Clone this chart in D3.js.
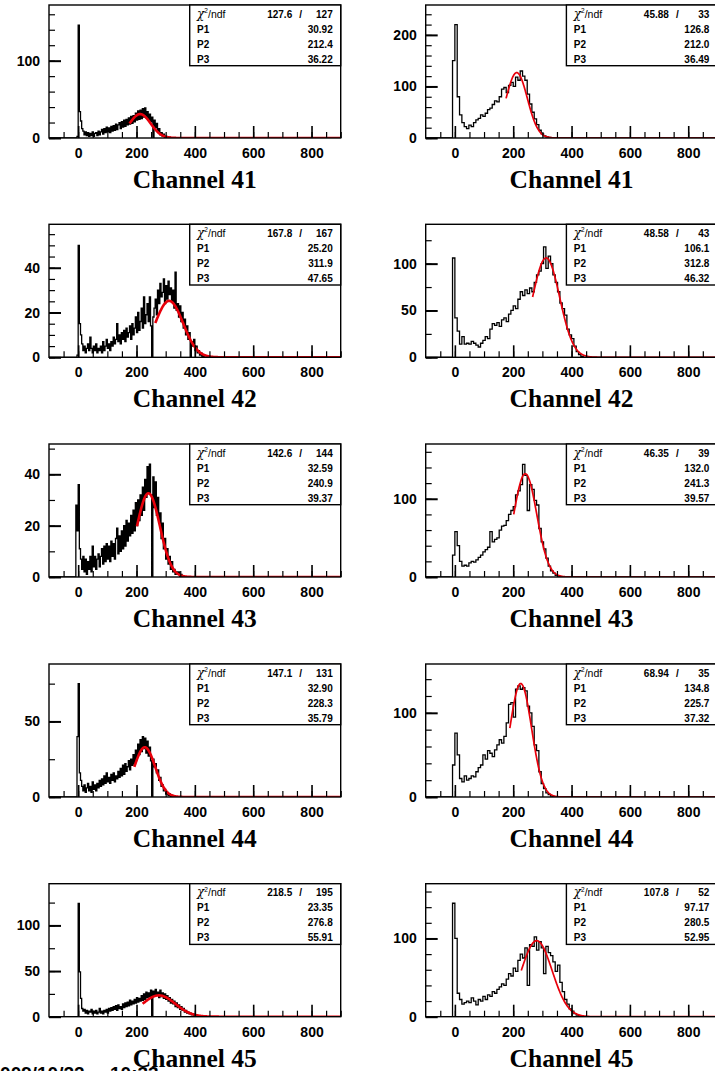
<!DOCTYPE html>
<html>
<head>
<meta charset="utf-8">
<script src="https://cdn.jsdelivr.net/npm/d3@7"></script>
<style>
    body { margin: 0; background: #fff; }
    svg { display: block; }
</style>
</head>
<body>
<svg id="canvas" width="715" height="1071"></svg>
<script>
// ---- data ----------------------------------------------------------------
var channels = [41, 42, 43, 44, 45];

// left column: fine binning (4 ADC units / bin), first bin edge per channel
var leftBinWidth = 4;
var leftStart = [-4, -4, -8, -8, -4];
var leftCounts41 = [2, 146, 34, 22, 12, 9, 4, 8, 3, 7, 2, 6, 3, 8, 2, 6, 7, 3, 9, 4, 8, 11, 5, 12, 7, 14, 8, 13, 7, 15, 9, 16, 10, 18, 11, 17, 20, 12, 21, 14, 23, 15, 24, 17, 26, 18, 28, 19, 29, 21, 32, 23, 35, 24, 36, 25, 38, 27, 39, 26, 34, 23, 31, 21, 27, 0, 23, 13, 19, 8, 12, 4, 7, 2, 5, 1, 2, 1, 0, 1, 0];
var leftCounts42 = [1, 50, 15, 10, 6, 3, 5, 2, 4, 6, 3, 9, 4, 2, 5, 3, 6, 2, 4, 3, 5, 2, 7, 3, 5, 8, 4, 6, 3, 7, 5, 9, 6, 8, 15, 7, 10, 6, 11, 8, 12, 7, 13, 9, 11, 14, 8, 15, 10, 13, 18, 11, 20, 12, 16, 22, 13, 27, 15, 19, 24, 16, 27, 14, 0, 18, 22, 26, 19, 30, 24, 33, 27, 29, 35, 24, 32, 26, 34, 28, 31, 25, 30, 22, 38, 21, 24, 18, 23, 16, 20, 13, 17, 10, 14, 8, 11, 0, 7, 5, 8, 3, 5, 2, 3, 1, 2, 0, 1, 0];
var leftCounts43 = [28, 18, 36, 11, 7, 3, 8, 2, 7, 1, 6, 3, 8, 2, 12, 4, 8, 3, 7, 9, 4, 8, 11, 5, 12, 6, 13, 7, 12, 6, 14, 8, 13, 7, 15, 19, 9, 16, 10, 18, 11, 20, 12, 22, 14, 21, 16, 24, 17, 26, 18, 29, 20, 30, 22, 32, 24, 35, 26, 38, 31, 43, 33, 44, 32, 0, 39, 27, 37, 24, 31, 21, 25, 15, 21, 11, 15, 7, 11, 5, 8, 3, 6, 2, 3, 1, 2, 1, 2, 0, 1, 0];
var leftCounts44 = [0, 40, 75, 16, 11, 7, 4, 8, 3, 6, 9, 4, 7, 3, 10, 5, 8, 4, 9, 6, 11, 7, 12, 8, 14, 9, 16, 10, 13, 9, 15, 11, 16, 10, 14, 12, 17, 13, 19, 14, 21, 15, 22, 17, 20, 24, 18, 25, 21, 28, 22, 31, 26, 35, 28, 38, 30, 40, 32, 39, 29, 37, 27, 33, 24, 0, 25, 20, 22, 16, 18, 11, 13, 7, 8, 4, 5, 2, 3, 1, 2, 0, 1, 0];
var leftCounts45 = [0, 124, 49, 20, 9, 6, 8, 4, 7, 3, 6, 5, 8, 3, 6, 4, 7, 3, 5, 9, 4, 6, 3, 7, 5, 8, 4, 9, 6, 10, 7, 11, 8, 12, 7, 13, 9, 11, 8, 14, 10, 15, 11, 16, 12, 18, 13, 17, 14, 19, 15, 21, 16, 20, 17, 23, 18, 25, 19, 27, 21, 26, 22, 29, 0, 28, 23, 30, 24, 27, 21, 29, 22, 26, 20, 25, 19, 23, 17, 21, 15, 19, 14, 17, 11, 15, 10, 13, 8, 11, 7, 9, 5, 7, 4, 5, 3, 4, 2, 3, 1, 2, 1, 0, 1, 0];

// right column: coarse binning (8 ADC units / bin)
var rightBinWidth = 8;
var rightStart = [-8, -8, -8, -8, -8];
var rightCounts41 = [150, 220, 80, 45, 30, 22, 18, 25, 22, 30, 35, 38, 45, 42, 48, 55, 58, 65, 72, 70, 80, 95, 98, 88, 102, 108, 100, 118, 112, 130, 120, 112, 85, 66, 50, 37, 26, 15, 8, 4, 2, 1, 0];
var rightCounts42 = [106, 42, 28, 14, 22, 14, 15, 14, 17, 15, 13, 11, 15, 18, 22, 20, 30, 36, 34, 37, 33, 40, 42, 38, 46, 50, 55, 52, 62, 70, 66, 72, 68, 74, 70, 80, 88, 92, 100, 118, 95, 108, 100, 88, 80, 70, 58, 52, 45, 30, 24, 20, 12, 6, 3, 1, 0];
var rightCounts43 = [28, 58, 40, 20, 14, 15, 14, 18, 20, 19, 22, 25, 28, 32, 35, 38, 58, 45, 48, 50, 60, 65, 66, 72, 80, 85, 90, 105, 110, 118, 144, 130, 85, 118, 112, 98, 92, 62, 45, 36, 24, 14, 8, 5, 2, 1, 0];
var rightCounts44 = [38, 76, 50, 22, 18, 25, 20, 22, 25, 24, 30, 35, 38, 50, 45, 55, 52, 48, 56, 62, 68, 64, 72, 88, 110, 112, 95, 128, 132, 128, 130, 126, 108, 100, 84, 62, 55, 30, 16, 10, 5, 3, 1, 0];
var rightCounts45 = [145, 100, 30, 22, 16, 18, 20, 18, 24, 20, 15, 22, 20, 26, 22, 28, 26, 32, 30, 35, 38, 42, 40, 48, 55, 52, 62, 58, 72, 80, 75, 88, 40, 92, 90, 102, 85, 96, 88, 55, 90, 82, 78, 70, 58, 66, 44, 32, 22, 16, 10, 7, 4, 2, 1, 0];

// y axis ranges and tick steps
var leftYMax = [172, 59.4, 51.8, 88, 145.7];
var leftYMajor = [100, 20, 20, 50, 50];
var leftYMinor = [20, 5, 10, 25, 25];
var rightYMax = [258, 142, 170, 158, 170];
var rightYMajor = [100, 50, 100, 100, 100];
var rightYMinor = [20, 25, 20, 20, 20];

// gaussian fit results (stats box)
var leftChi2 = [127.6, 167.8, 142.6, 147.1, 218.5];
var leftNdf = [127, 167, 144, 131, 195];
var leftP1 = [30.92, 25.20, 32.59, 32.90, 23.35];
var leftP2 = [212.4, 311.9, 240.9, 228.3, 276.8];
var leftP3 = [36.22, 47.65, 39.37, 35.79, 55.91];
var rightChi2 = [45.88, 48.58, 46.35, 68.94, 107.8];
var rightNdf = [33, 43, 39, 35, 52];
var rightP1 = [126.8, 106.1, 132.0, 134.8, 97.17];
var rightP2 = [212.0, 312.8, 241.3, 225.7, 280.5];
var rightP3 = [36.49, 46.32, 39.57, 37.32, 52.95];

var xTickLabels = [0, 200, 400, 600, 800];
var dateStamp = '2009/10/22', timeStamp = '10:33';

// ---- layout --------------------------------------------------------------
var colX = [49, 425.7],
    rowY = [5, 224.3, 444, 664, 883.7],
    frameW = 291.7,
    frameH = 133,
    boxW = 151,
    boxH = 60.7,
    fmt = d3.format('.4r');

var leftCounts = [leftCounts41, leftCounts42, leftCounts43, leftCounts44, leftCounts45],
    rightCounts = [rightCounts41, rightCounts42, rightCounts43, rightCounts44, rightCounts45];

var panels = [];
channels.forEach(function(ch, i) {
    panels.push({ ch: ch, col: 0, row: i, start: leftStart[i], bw: leftBinWidth, counts: leftCounts[i],
        yMax: leftYMax[i], yMajor: leftYMajor[i], yMinor: leftYMinor[i],
        chi2: leftChi2[i], ndf: leftNdf[i], p: [leftP1[i], leftP2[i], leftP3[i]], fitW: 2.6 });
    panels.push({ ch: ch, col: 1, row: i, start: rightStart[i], bw: rightBinWidth, counts: rightCounts[i],
        yMax: rightYMax[i], yMajor: rightYMajor[i], yMinor: rightYMinor[i],
        chi2: rightChi2[i], ndf: rightNdf[i], p: [rightP1[i], rightP2[i], rightP3[i]], fitW: 1.7 });
});

var svg = d3.select('#canvas');
svg.append('rect').attr('width', 715).attr('height', 1071).attr('fill', '#fff');
var defs = svg.append('defs');

panels.forEach(function(d, k) {
    var g = svg.append('g')
            .attr('transform', 'translate(' + colX[d.col] + ',' + rowY[d.row] + ')'),
        x = d3.scaleLinear().domain([-100, 900]).range([0, frameW]),
        y = d3.scaleLinear().domain([0, d.yMax]).range([frameH, 0]),
        clipId = 'clip-' + k;

    defs.append('clipPath').attr('id', clipId)
        .append('rect').attr('width', frameW).attr('height', frameH);

    // histogram outline
    var pts = [[-100, 0]];
    d.counts.forEach(function(c, j) { pts.push([d.start + j * d.bw, c]); });
    pts.push([d.start + d.counts.length * d.bw, 0], [900, 0]);
    g.append('path')
        .attr('clip-path', 'url(#' + clipId + ')')
        .attr('d', d3.line()
            .x(function(p) { return x(p[0]); })
            .y(function(p) { return y(p[1]); })
            .curve(d3.curveStepAfter)(pts))
        .attr('fill', 'none')
        .attr('stroke', '#000')
        .attr('stroke-width', 1.3);

    // gaussian fit, from mean - sigma to end of axis
    var fitX = d3.range(d.p[1] - d.p[2], 900.5, 1);
    g.append('path')
        .attr('clip-path', 'url(#' + clipId + ')')
        .attr('d', d3.line()
            .x(function(v) { return x(v); })
            .y(function(v) { return y(d.p[0] * Math.exp(-0.5 * Math.pow((v - d.p[1]) / d.p[2], 2))); })(fitX))
        .attr('fill', 'none')
        .attr('stroke', '#e8000b')
        .attr('stroke-width', d.fitW);

    // x axis: minor ticks every 50, major at labels
    g.append('g')
        .attr('transform', 'translate(0,' + frameH + ')')
        .call(d3.axisBottom(x).tickValues(d3.range(-50, 901, 50)).tickSize(-6).tickFormat(''))
        .call(function(a) { a.select('.domain').remove(); a.selectAll('line').attr('stroke-width', 1.2); });
    g.append('g')
        .attr('transform', 'translate(0,' + frameH + ')')
        .call(d3.axisBottom(x).tickValues(xTickLabels).tickSize(-12).tickPadding(10))
        .call(function(a) {
            a.select('.domain').remove();
            a.selectAll('line').attr('stroke-width', 1.6);
            a.selectAll('text')
                .attr('font-family', 'Liberation Sans, Arial, sans-serif')
                .attr('font-weight', 'bold')
                .attr('font-size', 14)
                .attr('fill', '#000');
        });

    // y axis
    g.append('g')
        .call(d3.axisLeft(y).tickValues(d3.range(0, d.yMax, d.yMinor)).tickSize(-6).tickFormat(''))
        .call(function(a) { a.select('.domain').remove(); a.selectAll('line').attr('stroke-width', 1.2); });
    g.append('g')
        .call(d3.axisLeft(y).tickValues(d3.range(0, d.yMax, d.yMajor)).tickSize(-12).tickPadding(9).tickFormat(d3.format('d')))
        .call(function(a) {
            a.select('.domain').remove();
            a.selectAll('line').attr('stroke-width', 2);
            a.selectAll('text')
                .attr('font-family', 'Liberation Sans, Arial, sans-serif')
                .attr('font-weight', 'bold')
                .attr('font-size', 14)
                .attr('fill', '#000');
        });

    // frame
    g.append('rect')
        .attr('width', frameW)
        .attr('height', frameH)
        .attr('fill', 'none')
        .attr('stroke', '#000')
        .attr('stroke-width', 1.4);

    // stats box
    var box = g.append('g').attr('transform', 'translate(' + (frameW - boxW) + ',0)');
    box.append('rect')
        .attr('width', boxW)
        .attr('height', boxH)
        .attr('fill', '#fff')
        .attr('stroke', '#000')
        .attr('stroke-width', 1.4);
    var txt = function(s, tx, ty, anchor, weight) {
        return box.append('text')
            .attr('x', tx).attr('y', ty)
            .attr('text-anchor', anchor)
            .attr('font-family', 'Liberation Sans, Arial, sans-serif')
            .attr('font-weight', weight)
            .attr('font-size', 10)
            .text(s);
    };
    var chiLabel = txt('', 7.4, 12.5, 'start', 'normal').attr('font-size', 10.5);
    chiLabel.append('tspan').attr('font-style', 'italic').attr('font-family', 'DejaVu Serif, serif').attr('font-size', 12).text('\u03c7');
    chiLabel.append('tspan').attr('font-size', 6.5).attr('dy', -4.5).text('2');
    chiLabel.append('tspan').attr('dy', 4.5).text('/ndf');
    txt(fmt(d.chi2), 102.5, 12.5, 'end', 'bold');
    txt('/', 111, 12.5, 'middle', 'bold');
    txt(d.ndf, 143, 12.5, 'end', 'bold');
    d.p.forEach(function(v, j) {
        txt('P' + (j + 1), 7.4, 27.5 + 15 * j, 'start', 'bold');
        txt(fmt(v), 143, 27.5 + 15 * j, 'end', 'bold');
    });

    // title under the frame
    g.append('text')
        .attr('x', frameW / 2)
        .attr('y', frameH + 50)
        .attr('text-anchor', 'middle')
        .attr('font-family', 'Liberation Serif, Times New Roman, serif')
        .attr('font-weight', 'bold')
        .attr('font-size', 25.5)
        .text('Channel ' + d.ch);
});

// date stamp, clipped at the bottom edge of the page
svg.append('text')
    .attr('x', -10.5).attr('y', 1080)
    .attr('font-family', 'Liberation Sans, Arial, sans-serif')
    .attr('font-weight', 'bold')
    .attr('font-size', 19)
    .text(dateStamp);
svg.append('text')
    .attr('x', 110).attr('y', 1080)
    .attr('font-family', 'Liberation Sans, Arial, sans-serif')
    .attr('font-weight', 'bold')
    .attr('font-size', 19)
    .text(timeStamp);
</script>
</body>
</html>
